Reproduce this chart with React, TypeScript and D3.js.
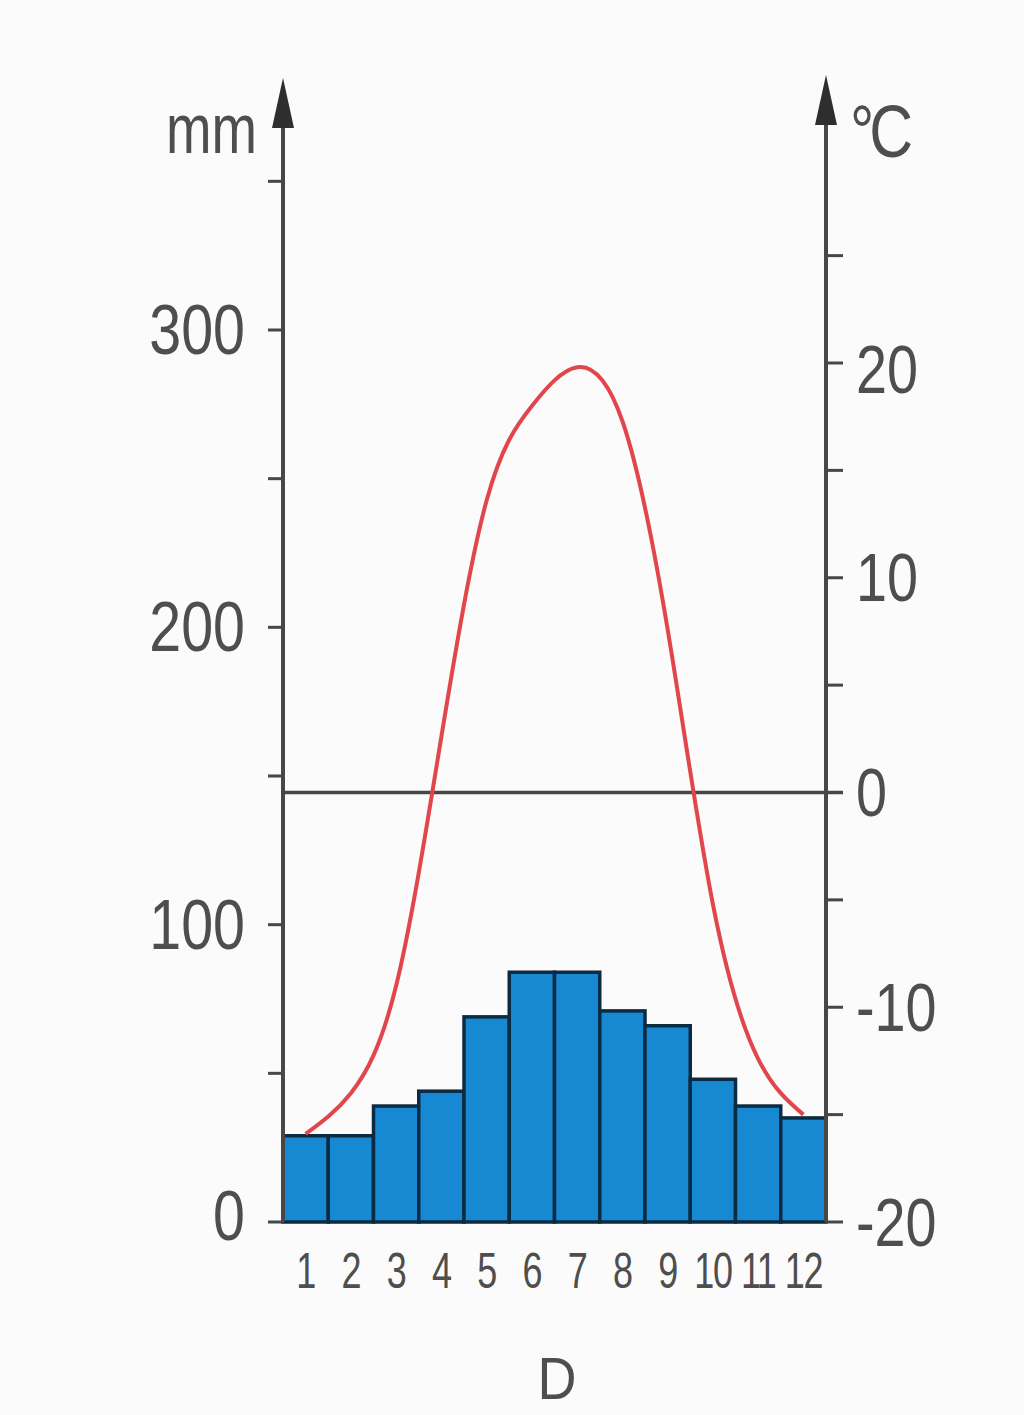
import * as d3 from "d3"

const months = ["1", "2", "3", "4", "5", "6", "7", "8", "9", "10", "11", "12"]
const precipitation = [29, 29, 39, 44, 69, 84, 84, 71, 66, 48, 39, 35]
const temperature = [-15.9, -14.0, -9.0, 2.6, 13.6, 18.0, 19.8, 17.3, 7.6, -5.2, -12.4, -15.0]
const mmTicks = [0, 100, 200, 300]
const mmMinor = [50, 150, 250, 350]
const tempTicks = [-20, -10, 0, 10, 20]
const tempMinor = [-15, -5, 5, 15, 25]

const W = 1024
const H = 1415
const LEFT = 283
const RIGHT = 826
const BASE = 1222
const AXIS_TOP = 80

const FONT = "'Liberation Sans', Arial, sans-serif"
const TEXT = "#4e4e4e"
const AXIS = "#474747"

// narrow-looking text: the reference type is condensed
const Label = ({
  x,
  y,
  size,
  anchor = "start",
  sx = 0.82,
  baseline,
  spacing = 0,
  children,
}: {
  x: number
  y: number
  size: number
  anchor?: "start" | "middle" | "end"
  sx?: number
  baseline?: string
  spacing?: number
  children: React.ReactNode
}) => (
  <text
    transform={`translate(${x},${y}) scale(${sx},1)`}
    textAnchor={anchor}
    dominantBaseline={baseline as any}
    fontFamily={FONT}
    fontSize={size}
    letterSpacing={spacing}
    fill={TEXT}
  >
    {children}
  </text>
)

export default function App() {
  const x = d3.scaleBand().domain(months).range([LEFT, RIGHT]).padding(0)
  const yMm = d3.scaleLinear().domain([0, 300]).range([BASE, 330])
  const yT = d3.scaleLinear().domain([-20, 20]).range([BASE, 363])

  const line = d3
    .line<number>()
    .x((_, i) => x(months[i])! + x.bandwidth() / 2)
    .y((d) => yT(d))
    .curve(d3.curveNatural)

  const arrow = (cx: number, tip: number) =>
    `M${cx},${tip} L${cx - 11},${tip + 50} L${cx + 11},${tip + 50} Z`

  return (
    <div style={{ position: "absolute", left: 0, top: 0 }}>
      <svg width={W} height={H} style={{ display: "block", background: "#fbfbfb" }}>
        {/* bars */}
        {precipitation.map((v, i) => (
          <rect
            key={i}
            x={x(months[i])}
            y={yMm(v)}
            width={x.bandwidth()}
            height={BASE - yMm(v)}
            fill="#1789d3"
            stroke="#0c2a42"
            strokeWidth={3.5}
          />
        ))}

        {/* zero line */}
        <line x1={LEFT} x2={RIGHT + 17} y1={yT(0)} y2={yT(0)} stroke={AXIS} strokeWidth={3.5} />

        {/* left axis */}
        <line x1={LEFT} x2={LEFT} y1={BASE} y2={AXIS_TOP + 20} stroke={AXIS} strokeWidth={4} />
        <path d={arrow(LEFT, AXIS_TOP - 2)} fill="#2e2e2e" />
        {[...mmTicks, ...mmMinor].map((t) => (
          <line key={t} x1={LEFT - 15} x2={LEFT} y1={yMm(t)} y2={yMm(t)} stroke={AXIS} strokeWidth={3} />
        ))}
        {mmTicks.map((t) => (
          <Label key={t} x={LEFT - 38} y={yMm(t) - (t === 0 ? 6 : 0)} size={70} anchor="end" baseline="central">
            {t}
          </Label>
        ))}
        <Label x={257} y={153} size={70} anchor="end" sx={0.78}>
          mm
        </Label>

        {/* right axis */}
        <line x1={RIGHT} x2={RIGHT} y1={BASE} y2={AXIS_TOP + 20} stroke={AXIS} strokeWidth={4} />
        <path d={arrow(RIGHT, AXIS_TOP - 5)} fill="#2e2e2e" />
        {[...tempTicks, ...tempMinor].map((t) => (
          <line key={t} x1={RIGHT} x2={RIGHT + 17} y1={yT(t)} y2={yT(t)} stroke={AXIS} strokeWidth={3} />
        ))}
        {tempTicks.map((t) => (
          <Label key={t} x={RIGHT + 30} y={yT(t) + (t === 20 ? 6 : 0)} size={68} baseline="central">
            {t}
          </Label>
        ))}
        <Label x={850} y={157} size={74} spacing={-6}>
          °C
        </Label>

        {/* temperature curve */}
        <path d={line(temperature) ?? ""} fill="none" stroke="#e0464c" strokeWidth={4} />

        {/* month labels */}
        {months.map((m) => (
          <Label key={m} x={x(m)! + x.bandwidth() / 2} y={1288} size={50} anchor="middle" sx={0.72} spacing={-2}>
            {m}
          </Label>
        ))}

        <Label x={557} y={1399} size={60} anchor="middle" sx={0.9}>
          D
        </Label>
      </svg>
    </div>
  )
}
